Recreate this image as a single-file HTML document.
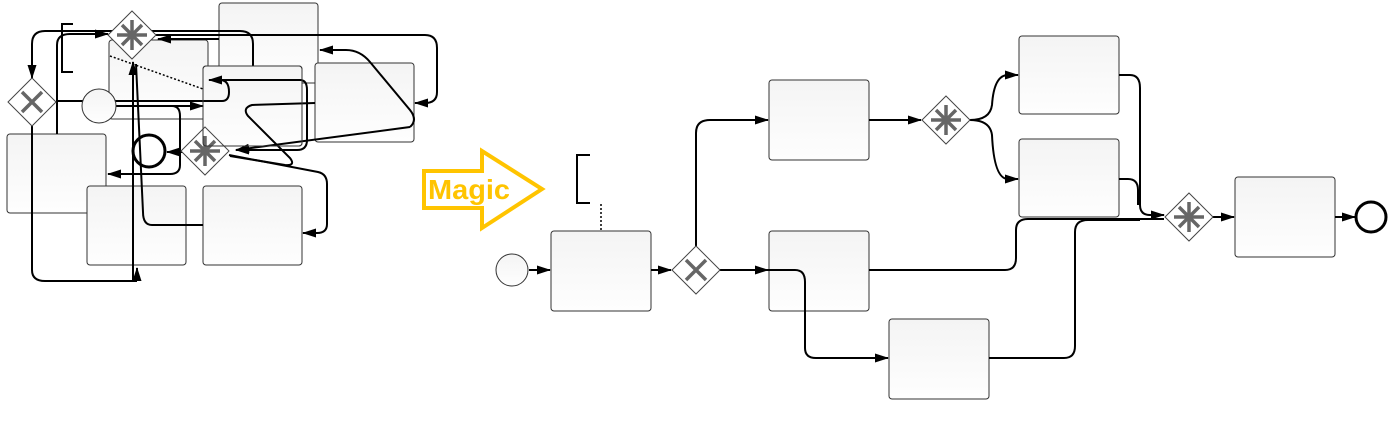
<!DOCTYPE html>
<html><head><meta charset="utf-8"><style>
html,body{margin:0;padding:0;background:#fff;width:1389px;height:422px;overflow:hidden}
svg{display:block}
</style></head><body>
<svg width="1389" height="422" viewBox="0 0 1389 422" xmlns="http://www.w3.org/2000/svg">
<defs>
<linearGradient id="g" x1="0" y1="0" x2="0" y2="1"><stop offset="0" stop-color="#f4f4f4"/><stop offset="1" stop-color="#fefefe"/></linearGradient>
<marker id="a" markerWidth="14" markerHeight="9" refX="13" refY="4.5" orient="auto" markerUnits="userSpaceOnUse"><path d="M0,0 L14,4.5 L0,9 z" fill="#000"/></marker>
</defs>
<g fill="url(#g)" stroke="#333" stroke-width="1">
<rect x="219" y="3" width="99" height="80" rx="3"/>
<rect x="109" y="40" width="99" height="79" rx="3"/>
<rect x="315" y="63" width="99" height="79" rx="3"/>
<rect x="203" y="66" width="99" height="80" rx="3"/>
<rect x="7" y="134" width="99" height="79" rx="3"/>
<rect x="87" y="186" width="99" height="79" rx="3"/>
<rect x="203" y="186" width="99" height="79" rx="3"/>
</g>
<g fill="none" stroke="#000" stroke-width="2">
<path d="M253,66 V44 Q253,31 240,31 H45 Q32,31 32,44 V78" marker-end="url(#a)"/>
<path d="M57,134 V45 Q57,34 70,34 H108" marker-end="url(#a)"/>
<path d="M219,39 H158" marker-end="url(#a)"/>
<path d="M156,35 H425 Q437,35 437,48 V92 Q437,103 425,103 H415" marker-end="url(#a)"/>
<path d="M410,127 L236,150" marker-end="url(#a)"/>
<path d="M410,127 Q418,120 410,110 L370,62 Q360,50 346,50 H320" marker-end="url(#a)"/>
<path d="M56,101 H222 Q229,101 229,92 Q229,80 220,80 H209" marker-end="url(#a)"/>
<path d="M116,106 H203" marker-end="url(#a)"/>
<path d="M116,106 H172 Q180,106 180,116 V165 Q180,174 170,174 H108" marker-end="url(#a)"/>
<path d="M32,126 V270 Q32,281 45,281 H137" />
<path d="M133,281 V62" marker-end="url(#a)"/>
<path d="M137,281 V268" marker-end="url(#a)"/>
<path d="M203,225 H152 Q143,225 143,212 L136,64"/>
<path d="M315,103 L252,105 Q242,108 248,116 L290,158 Q296,166 285,165 L230,156" />
<path d="M222,80 H300 Q307,80 307,90 V140 Q307,150 297,150 H236" marker-end="url(#a)"/>
<path d="M183,152 H167" marker-end="url(#a)"/>
<path d="M229,155 L318,172 Q327,174 327,184 V224 Q327,233 317,233 H303" marker-end="url(#a)"/>
</g>
<path d="M110,56 L203,89" stroke="#000" stroke-width="1.5" stroke-dasharray="2,2"/>
<path d="M73,24 H62 V72 H73" fill="none" stroke="#000" stroke-width="2"/>
<circle cx="99" cy="106" r="17" fill="url(#g)" stroke="#333"/>
<circle cx="149" cy="151" r="16" fill="none" stroke="#000" stroke-width="3"/>
<g stroke="#444" fill="#fff">
<path d="M132,11 L156,35 L132,59 L108,35z"/>
<path d="M32,78 L56,102 L32,126 L8,102z"/>
<path d="M205,127 L229,151 L205,175 L181,151z"/>
</g>
<g stroke="#666" stroke-width="3.5" fill="none">
<path d="M132,20 V50 M117,35 H147 M122,25 L142,45 M142,25 L122,45"/>
<path d="M22,92 L42,112 M42,92 L22,112"/>
<path d="M205,136 V166 M190,151 H220 M195,141 L215,161 M215,141 L195,161"/>
</g>
<rect x="203" y="66" width="99" height="80" rx="3" fill="none" stroke="#333"/>

<path d="M424,171 H482 V151 L542,189 L482,228 V208 H424 Z" fill="none" stroke="#FFC400" stroke-width="4" stroke-linejoin="miter"/>
<text x="428" y="199" font-family="Liberation Sans, sans-serif" font-weight="bold" font-size="28" textLength="82" lengthAdjust="spacingAndGlyphs" fill="#FFC400">Magic</text>

<g fill="url(#g)" stroke="#333">
<rect x="551" y="231" width="100" height="80" rx="3"/>
<rect x="769" y="80" width="100" height="80" rx="3"/>
<rect x="769" y="231" width="100" height="80" rx="3"/>
<rect x="889" y="319" width="100" height="80" rx="3"/>
<rect x="1019" y="36" width="100" height="78" rx="3"/>
<rect x="1019" y="139" width="100" height="78" rx="3"/>
<rect x="1235" y="177" width="100" height="80" rx="3"/>
</g>
<path d="M590,155 H577 V203 H590" fill="none" stroke="#000" stroke-width="2"/>
<path d="M601,204 V231" stroke="#000" stroke-width="1.5" stroke-dasharray="2,2"/>
<g fill="none" stroke="#000" stroke-width="2">
<path d="M529,270 H550" marker-end="url(#a)"/>
<path d="M651,270 H671" marker-end="url(#a)"/>
<path d="M696,246 V133 Q696,120 710,120 H768" marker-end="url(#a)"/>
<path d="M720,270 H768" marker-end="url(#a)"/>
<path d="M760,270 H795 Q805,270 805,282 V348 Q805,358 816,358 H888" marker-end="url(#a)"/>
<path d="M869,120 H921" marker-end="url(#a)"/>
<path d="M970,120 Q990,120 992,105 Q994,75 1008,75 H1018" marker-end="url(#a)"/>
<path d="M970,120 Q990,120 992,135 Q994,179 1008,179 H1018" marker-end="url(#a)"/>
<path d="M1119,75 H1130 Q1140,75 1140,88 V205 Q1140,215 1150,215 H1164" marker-end="url(#a)"/>
<path d="M1119,179 H1128 Q1138,179 1138,190 V205"/>
<path d="M869,270 H1005 Q1016,270 1016,258 V230 Q1016,219 1028,219 H1164"/>
<path d="M989,358 H1064 Q1075,358 1075,346 V232 Q1075,220 1088,220 H1140"/>
<path d="M1213,217 H1234" marker-end="url(#a)"/>
<path d="M1335,217 H1355" marker-end="url(#a)"/>
</g>
<circle cx="512" cy="270" r="16" fill="url(#g)" stroke="#333"/>
<circle cx="1371" cy="217" r="15" fill="#fff" stroke="#000" stroke-width="3"/>
<g stroke="#444" fill="#fff">
<path d="M696,246 L720,270 L696,294 L672,270z"/>
<path d="M946,96 L970,120 L946,144 L922,120z"/>
<path d="M1189,193 L1213,217 L1189,241 L1165,217z"/>
</g>
<g stroke="#666" stroke-width="3.5" fill="none">
<path d="M686,260 L706,280 M706,260 L686,280"/>
<path d="M946,105 V135 M931,120 H961 M936,110 L956,130 M956,110 L936,130"/>
<path d="M1189,202 V232 M1174,217 H1204 M1179,207 L1199,227 M1199,207 L1179,227"/>
</g>
</svg>
</body></html>
